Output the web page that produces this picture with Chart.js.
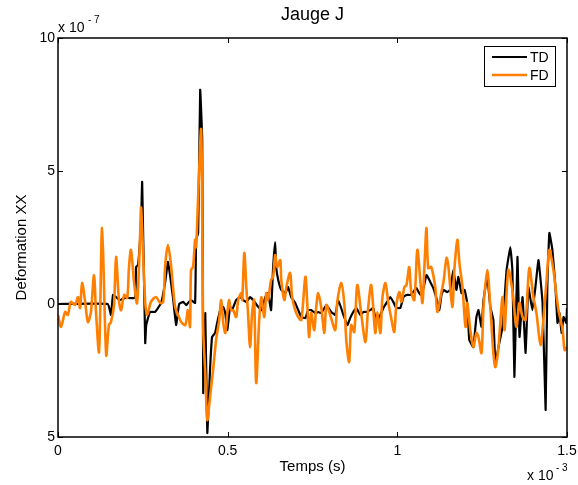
<!DOCTYPE html>
<html><head><meta charset="utf-8">
<script src="https://cdn.jsdelivr.net/npm/chart.js@4.4.0/dist/chart.umd.min.js"></script>
<style>html,body{margin:0;padding:0;background:#fff;overflow:hidden}</style>
</head><body>
<canvas id="c" width="578" height="485"></canvas>
<script>
// Time in units of 1e-3 s, deformation in units of 1e-7
const tdTime = [0,0.147,0.156,0.162,0.171,0.183,0.198,0.227,0.230,0.236,0.245,0.248,0.257,0.260,0.271,0.286,0.304,0.316,0.324,0.339,0.348,0.357,0.369,0.378,0.383,0.392,0.404,0.407,0.413,0.419,0.425,0.428,0.434,0.440,0.448,0.454,0.463,0.469,0.478,0.487,0.493,0.499,0.507,0.513,0.525,0.537,0.546,0.555,0.566,0.575,0.590,0.599,0.611,0.619,0.628,0.634,0.640,0.643,0.649,0.658,0.670,0.678,0.687,0.699,0.708,0.717,0.729,0.737,0.746,0.758,0.767,0.776,0.791,0.805,0.817,0.826,0.841,0.853,0.861,0.870,0.879,0.891,0.900,0.909,0.920,0.929,0.938,0.950,0.959,0.968,0.979,0.988,0.997,1.009,1.018,1.027,1.038,1.047,1.056,1.068,1.077,1.086,1.097,1.106,1.115,1.124,1.130,1.136,1.147,1.156,1.165,1.174,1.180,1.189,1.198,1.206,1.212,1.224,1.233,1.239,1.248,1.254,1.265,1.274,1.283,1.289,1.298,1.310,1.322,1.333,1.339,1.345,1.354,1.360,1.369,1.378,1.386,1.398,1.407,1.416,1.428,1.437,1.442,1.448,1.457,1.466,1.472,1.478,1.484,1.490,1.498,1.5];
const tdValues = [0,0,-0.41,0.34,0.26,0.15,0.23,0.23,1.39,1.47,3.16,4.59,-1.47,-0.79,-0.30,-0.30,0.04,0.83,1.58,0.23,-0.79,0,0.08,-0.04,0.04,0.15,0.04,2.41,2.67,8.05,6.17,-3.35,-0.34,-4.85,-2.48,-1.24,-1.09,-0.71,-0.23,-0.11,-0.34,-0.98,-0.11,-0.23,0.15,0.26,0.15,0.08,0.26,0.15,-0.11,-0.23,0.26,0.41,-0.23,1.39,2.33,1.39,0.90,0.53,0.41,0.64,0.26,0.04,-0.23,-0.49,-0.53,-0.23,-0.23,-0.34,-0.30,-0.34,-0.04,-0.30,-0.41,0.15,-0.41,-0.79,-0.53,-0.30,-0.15,-0.41,-0.30,-0.30,-0.23,-0.15,-0.68,-0.41,-0.15,0.04,0.26,0.08,-0.15,-0.15,0.26,0.34,0.34,0.45,0.60,0.34,0.60,1.09,0.83,0.60,0.23,-0.23,0.34,0.53,0.45,0.53,1.28,0.53,1.02,0.41,0.53,0.04,-1.35,-1.62,-0.49,-0.23,-0.86,0.15,1.02,-0.11,-0.60,-2.22,-1.62,-0.86,1.28,2.14,1.28,-2.74,1.77,-1.24,0.26,-1.84,0.64,-0.23,0.64,1.65,0.04,-3.98,0.64,2.67,2.03,0.64,-0.71,-0.34,-1.09,-0.49,-0.71,-0.15];
const fdTime = [0,0.009,0.021,0.029,0.038,0.050,0.059,0.065,0.071,0.080,0.088,0.097,0.106,0.112,0.121,0.130,0.142,0.150,0.156,0.165,0.171,0.180,0.186,0.195,0.204,0.209,0.215,0.224,0.233,0.242,0.245,0.257,0.263,0.274,0.289,0.301,0.310,0.316,0.324,0.333,0.345,0.354,0.363,0.375,0.383,0.389,0.392,0.398,0.404,0.407,0.413,0.422,0.428,0.434,0.440,0.448,0.457,0.466,0.475,0.481,0.487,0.493,0.499,0.504,0.510,0.516,0.525,0.531,0.540,0.543,0.549,0.555,0.560,0.566,0.572,0.578,0.584,0.593,0.599,0.608,0.614,0.619,0.628,0.634,0.640,0.646,0.655,0.658,0.667,0.673,0.684,0.690,0.699,0.708,0.717,0.729,0.735,0.740,0.746,0.755,0.761,0.767,0.776,0.785,0.791,0.802,0.805,0.817,0.823,0.835,0.844,0.850,0.858,0.864,0.873,0.882,0.894,0.906,0.914,0.923,0.935,0.941,0.950,0.956,0.965,0.973,0.982,0.991,0.997,1.006,1.012,1.021,1.027,1.035,1.041,1.050,1.059,1.068,1.074,1.080,1.086,1.091,1.100,1.112,1.118,1.130,1.136,1.145,1.150,1.162,1.168,1.177,1.183,1.192,1.201,1.206,1.215,1.224,1.233,1.239,1.248,1.254,1.265,1.274,1.283,1.289,1.298,1.310,1.316,1.327,1.339,1.351,1.360,1.369,1.378,1.389,1.401,1.410,1.422,1.431,1.440,1.448,1.460,1.466,1.475,1.487,1.493,1.5];
const fdValues = [-0.41,-0.86,-0.30,-0.41,0.08,-0.04,0.26,-0.15,0.79,0.08,-0.68,-0.30,1.09,-0.30,-1.80,2.86,-1.92,-0.79,-0.68,-0.04,1.77,0.08,-0.23,0.34,0.23,1.35,2.03,0.83,0.04,2.59,3.61,0.04,-0.41,0.08,0.26,0.04,0.08,1.47,2.22,1.47,-0.11,-0.41,-0.68,-0.79,-0.23,-0.86,1.28,1.39,2.41,2.14,4.02,6.54,-0.98,-2.59,-4.36,-3.50,-2.48,-1.35,-0.60,0.15,-0.71,-1.09,-0.34,0.15,-0.23,-0.23,-0.49,0.15,0.41,0.15,1.92,0.64,-0.34,-1.62,-0.34,0.15,-2.97,-0.60,0.26,-0.49,0.41,0.15,0.90,1.02,1.84,1.39,1.65,0.90,0.15,0.64,1.17,0.26,-0.23,-0.49,-0.60,1.02,-0.11,-1.24,-0.34,-0.98,-0.11,0.41,-0.15,-1.09,-0.04,-0.41,-0.53,-0.98,0.08,0.79,-0.04,-1.43,-2.18,-0.79,-1.05,0.71,-0.41,-1.43,-0.15,0.71,-1.09,-0.30,-1.09,0.23,0.79,0.08,-0.53,-1.05,-0.04,0.45,0.08,0.64,0.71,1.39,0.45,0.15,2.03,0.83,0.04,1.47,2.86,1.35,1.39,0.60,-0.30,0.45,0.83,1.73,1.47,-0.11,1.28,2.41,1.54,0.64,-0.86,0.04,-0.98,-1.62,-1.09,-1.24,-1.84,-0.11,1.28,-0.11,-1.84,-2.37,-1.62,0.26,-0.98,1.28,0.53,-0.86,0.04,-0.49,-0.60,1.35,0.26,-0.34,-1.54,-0.49,0.90,2.03,1.28,0.64,-0.23,-0.98,-1.73,-1.62];
const seriesLabels = ['TD', 'FD'];
const xTickValues = [0, 0.5, 1, 1.5];
const xTickLabels = ['0', '0.5', '1', '1.5'];
const yTickValues = [-5, 0, 5, 10];
const yTickLabels = ['5', '0', '5', '10'];
const titleText = 'Jauge J';
const xTitle = 'Temps (s)';
const yTitle = 'Deformation XX';
const xExponent = '- 3';
const yExponent = '- 7';

const FONT = "'Liberation Sans', Arial, sans-serif";
const colors = {TD: '#000000', FD: '#ff7f00'};

const toPoints = (xs, ys) => xs.map((x, i) => ({x: x, y: ys[i]}));

const decor = {
  id: 'decor',
  afterDraw(chart) {
    const {ctx, chartArea: a, scales} = chart;
    const xs = scales.x, ys = scales.y;
    const cx = (a.left + a.right) / 2;
    ctx.save();
    // ticks (inward)
    ctx.strokeStyle = '#000';
    ctx.lineWidth = 1;
    const tl = 5;
    ctx.beginPath();
    xTickValues.forEach(v => {
      const px = Math.round(xs.getPixelForValue(v)) + 0.5;
      ctx.moveTo(px, a.bottom); ctx.lineTo(px, a.bottom - tl);
      ctx.moveTo(px, a.top); ctx.lineTo(px, a.top + tl);
    });
    yTickValues.forEach(v => {
      const py = Math.round(ys.getPixelForValue(v)) + 0.5;
      ctx.moveTo(a.left, py); ctx.lineTo(a.left + tl, py);
      ctx.moveTo(a.right, py); ctx.lineTo(a.right - tl, py);
    });
    ctx.stroke();
    // box
    ctx.lineWidth = 1.5;
    ctx.strokeStyle = '#000';
    ctx.strokeRect(Math.round(a.left), Math.round(a.top), Math.round(a.right - a.left), Math.round(a.bottom - a.top));

    ctx.fillStyle = '#000';
    // title
    ctx.textAlign = 'center';
    ctx.textBaseline = 'middle';
    ctx.font = '18px ' + FONT;
    ctx.fillText(titleText, cx, 15);
    // axis titles
    ctx.font = '15px ' + FONT;
    ctx.fillText(xTitle, cx, a.bottom + 30);
    ctx.save();
    ctx.translate(22, (a.top + a.bottom) / 2 + 10);
    ctx.rotate(-Math.PI / 2);
    ctx.fillText(yTitle, 0, 0);
    ctx.restore();

    // exponents
    ctx.textAlign = 'left';
    ctx.textBaseline = 'middle';
    ctx.font = '14px ' + FONT;
    ctx.fillText('x 10', a.left, a.top - 10);
    ctx.font = '10px ' + FONT;
    ctx.fillText(yExponent, a.left + 30, a.top - 18);
    ctx.font = '14px ' + FONT;
    ctx.fillText('x 10', a.right - 40, a.bottom + 39);
    ctx.font = '10px ' + FONT;
    ctx.fillText(xExponent, a.right - 11, a.bottom + 31);

    // legend
    const bx = a.right - 83, by = a.top + 8, bw = 71, bh = 40;
    ctx.fillStyle = '#fff';
    ctx.fillRect(bx, by, bw, bh);
    ctx.lineWidth = 1;
    ctx.strokeStyle = '#000';
    ctx.strokeRect(bx + 0.5, by + 0.5, bw, bh);
    ctx.font = '14px ' + FONT;
    ctx.textBaseline = 'middle';
    seriesLabels.forEach((lab, i) => {
      const ds = chart.data.datasets.find(d => d.label === lab);
      const yy = by + 11 + i * 18;
      ctx.strokeStyle = ds.borderColor;
      ctx.lineWidth = ds.borderWidth;
      ctx.beginPath();
      ctx.moveTo(bx + 8, yy); ctx.lineTo(bx + 43, yy);
      ctx.stroke();
      ctx.fillStyle = '#000';
      ctx.fillText(lab, bx + 46, yy + 1);
    });
    ctx.restore();
  }
};

new Chart(document.getElementById('c'), {
  type: 'line',
  data: {
    datasets: [
      {label: seriesLabels[0], data: toPoints(tdTime, tdValues), borderColor: colors.TD, borderWidth: 2.2, pointRadius: 0, tension: 0.1, order: 1},
      {label: seriesLabels[1], data: toPoints(fdTime, fdValues), borderColor: colors.FD, borderWidth: 2.6, pointRadius: 0, tension: 0.3, order: 0}
    ]
  },
  options: {
    responsive: false,
    animation: false,
    devicePixelRatio: 1,
    layout: {padding: {left: 0, right: 11, top: 38, bottom: 0}},
    plugins: {
      legend: {display: false},
      tooltip: {enabled: false},
      title: {display: false}
    },
    scales: {
      x: {
        type: 'linear', min: 0, max: 1.5,
        afterBuildTicks: s => { s.ticks = xTickValues.map(v => ({value: v})); },
        afterFit: s => { s.height = 48; s.paddingLeft = 0; s.paddingRight = 0; },
        grid: {display: false, drawTicks: false, tickLength: 0}, border: {display: false},
        ticks: {color: '#000', font: {family: FONT, size: 14}, padding: 6, maxRotation: 0, autoSkip: false,
          callback: (v) => { const i = xTickValues.indexOf(v); return i >= 0 ? xTickLabels[i] : ''; }}
      },
      y: {
        type: 'linear', min: -5, max: 10,
        afterBuildTicks: s => { s.ticks = yTickValues.map(v => ({value: v})); },
        afterFit: s => { s.width = 58; s.paddingTop = 0; s.paddingBottom = 0; },
        grid: {display: false, drawTicks: false, tickLength: 0}, border: {display: false},
        ticks: {color: '#000', font: {family: FONT, size: 14}, padding: 3, autoSkip: false,
          callback: (v) => { const i = yTickValues.indexOf(v); return i >= 0 ? yTickLabels[i] : ''; }}
      }
    }
  },
  plugins: [decor]
});
</script>
</body></html>
